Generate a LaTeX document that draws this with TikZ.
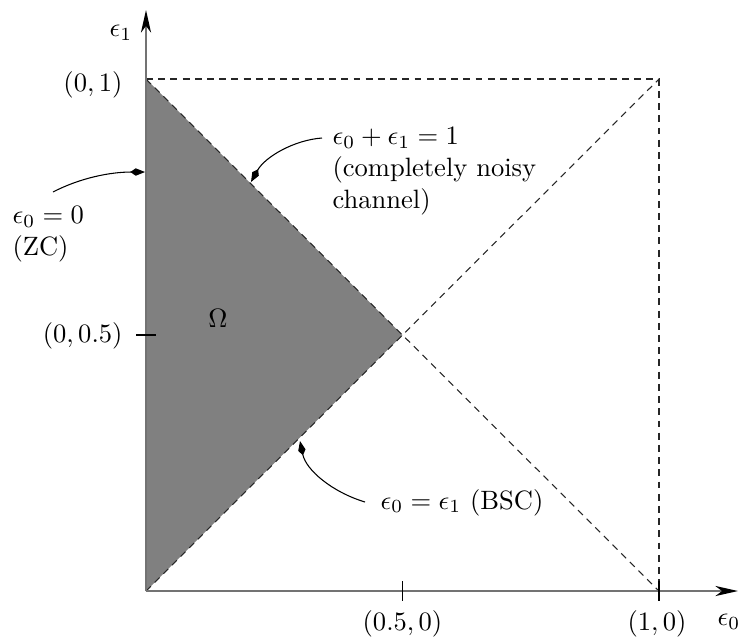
\documentclass[tikz,border=0pt]{standalone}
\usetikzlibrary{arrows.meta}
\begin{document}
\begin{tikzpicture}[x=0.01324cm,y=-0.01324cm,
  axis/.style={draw=black!55, line width=0.75pt},
  axistip/.style={-{Stealth[length=8.5pt,width=3.8pt,inset=2.5pt,color=black]}},
  guide/.style={draw=black!85, line width=0.4pt, dash pattern=on 2.6pt off 2pt},
  tick/.style={draw=black, line width=0.4pt},
  pointer/.style={draw=black, line width=0.4pt, -{Kite[length=5.5pt,width=2.8pt,inset=2pt]}},
  lbl/.style={inner sep=0pt}]
\useasboundingbox (0,0) rectangle (743,641);
\coordinate (O) at (146,591);
\coordinate (A) at (146,79);
\coordinate (B) at (659,79);
\coordinate (C) at (659,591);
\coordinate (M) at (402.5,335);
\coordinate (xend) at (738,591);
\coordinate (yend) at (146,10);
% shaded region
\fill[black!50] (A) -- (M) -- (O) -- cycle;
% dashed guides
\draw[guide] (A) -- (B) -- (C);
\draw[guide] (O) -- (B);
\draw[guide] (A) -- (C);
% axes
\draw[axis, axistip] (O) -- (xend);
\draw[axis, axistip] (O) -- (yend);
% ticks
\coordinate (t1a) at (402.5,581); \coordinate (t1b) at (402.5,601);
\coordinate (t2a) at (659,581);   \coordinate (t2b) at (659,601);
\coordinate (t3a) at (136,335);   \coordinate (t3b) at (156,335);
\draw[tick] (t1a) -- (t1b);
\draw[tick] (t2a) -- (t2b);
\draw[tick] (t3a) -- (t3b);
% axis labels
\node[lbl] (e1) at (121,33) {$\epsilon_1$};
\node[lbl] (e0) at (729,622) {$\epsilon_0$};
\node[lbl, anchor=east] (l01) at (123,85) {$(0,1)$};
\node[lbl, anchor=east] (l05) at (123,336) {$(0,0.5)$};
\node[lbl] (l50) at (402.5,624) {$(0.5,0)$};
\node[lbl] (l10) at (657,624) {$(1,0)$};
\node[lbl] (omega) at (218,318) {$\Omega$};
% annotations (base anchor = baseline of last line)
\node[lbl, anchor=base west, align=left] (zc) at (12,255) {$\epsilon_0=0$\\(ZC)};
\node[lbl, anchor=base west, align=left] (noisy) at (332,208) {$\epsilon_0+\epsilon_1=1$\\(completely noisy\\channel)};
\node[lbl, anchor=base west] (bsc) at (380,509) {$\epsilon_0=\epsilon_1$ (BSC)};
% pointer arrows
\coordinate (zcs) at (53,192);
\coordinate (zce) at (145,172);
\coordinate (ns) at (322,138);
\coordinate (ne) at (251,182);
\coordinate (bs) at (365,502);
\coordinate (be) at (300,441);
\draw[pointer] (zcs) .. controls (80,178) and (110,172) .. (zce);
\draw[pointer] (ns) .. controls (294,140) and (265,157) .. (ne);
\draw[pointer] (bs) .. controls (332,492) and (306,470) .. (be);
\end{tikzpicture}
\end{document}
